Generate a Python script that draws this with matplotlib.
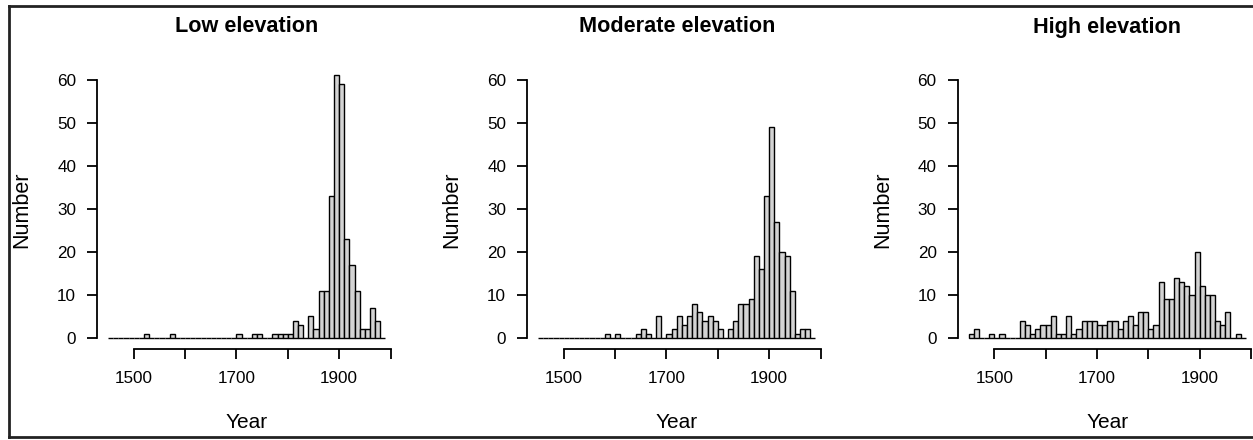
import matplotlib
matplotlib.use("Agg")
import matplotlib.pyplot as plt
from matplotlib.lines import Line2D

plt.rcParams['font.family'] = ['Liberation Sans', 'DejaVu Sans']

# decade bins, 1450 to 1980 (left edges)
decades = list(range(1450, 1990, 10))

low = [0, 0, 0, 0, 0, 0, 0, 1, 0, 0,
       0, 0, 1, 0, 0, 0, 0, 0, 0, 0,
       0, 0, 0, 0, 0, 1, 0, 0, 1, 1,
       0, 0, 1, 1, 1, 1, 4, 3, 0, 5,
       2, 11, 11, 33, 61, 59, 23, 17, 11, 2,
       2, 7, 4, 0]

moderate = [0, 0, 0, 0, 0, 0, 0, 0, 0, 0,
            0, 0, 0, 1, 0, 1, 0, 0, 0, 1,
            2, 1, 0, 5, 0, 1, 2, 5, 3, 5,
            8, 6, 4, 5, 4, 2, 0, 2, 4, 8,
            8, 9, 19, 16, 33, 49, 27, 20, 19, 11,
            1, 2, 2, 0]

high = [1, 2, 0, 0, 1, 0, 1, 0, 0, 0,
        4, 3, 1, 2, 3, 3, 5, 1, 1, 5,
        1, 2, 4, 4, 4, 3, 3, 4, 4, 2,
        4, 5, 3, 6, 6, 2, 3, 13, 9, 9,
        14, 13, 12, 10, 20, 12, 10, 10, 4, 3,
        6, 0, 1, 0]

titles = ["Low elevation", "Moderate elevation", "High elevation"]
series = [low, moderate, high]
xticks = [1500, 1600, 1700, 1800, 1900, 2000]
xticklabels = ["1500", "", "1700", "", "1900", ""]
yticks = [0, 10, 20, 30, 40, 50, 60]

W, H = 1253, 440
fig = plt.figure(figsize=(W / 100, H / 100), dpi=100)

x0, x1 = 1428.4, 2011.6
y0, y1 = -2.44, 63.44
px_per_year = 0.5135
ax_w = (x1 - x0) * px_per_year
ax_top, ax_bot = 65, 348.5
lefts = [97, 527, 957.5]

for left, title, counts in zip(lefts, titles, series):
    ax = fig.add_axes([left / W, 1 - ax_bot / H, ax_w / W, (ax_bot - ax_top) / H])
    ax.bar(decades, counts, width=10, align='edge', color='lightgray',
           edgecolor='black', linewidth=1.0)
    ax.set_xlim(x0, x1)
    ax.set_ylim(y0, y1)
    for s in ['top', 'right']:
        ax.spines[s].set_visible(False)
    ax.spines['left'].set_bounds(0, 60)
    ax.spines['bottom'].set_bounds(1500, 2000)
    ax.spines['left'].set_linewidth(1.3)
    ax.spines['bottom'].set_linewidth(1.3)
    ax.set_xticks(xticks)
    ax.set_xticklabels(xticklabels)
    ax.set_yticks(yticks)
    ax.tick_params(axis='both', length=7.5, width=1.3, labelsize=12.3, color='black')
    ax.tick_params(axis='x', pad=9)
    ax.tick_params(axis='y', pad=7.5)
    ax.patch.set_visible(False)

    cx = left + ax_w / 2
    fig.text(cx / W, 1 - 27 / H, title, ha='center', va='center',
             fontsize=15.6, fontweight='bold')
    fig.text(cx / W, 1 - 422 / H, "Year", ha='center', va='center', fontsize=15)
    fig.text((left - 75) / W, 1 - ((ax_top + ax_bot) / 2 + 3) / H, "Number",
             ha='center', va='center', rotation=90, fontsize=15.5)

# outer frame (left, top, bottom)
fx0, fy_top, fy_bot = 9 / W, 1 - 6 / H, 1 - 437 / H
frame_kw = dict(color='#222222', linewidth=2.0, transform=fig.transFigure)
fig.add_artist(Line2D([fx0, fx0], [fy_bot, fy_top], **frame_kw))
fig.add_artist(Line2D([fx0, 1], [fy_top, fy_top], **frame_kw))
fig.add_artist(Line2D([fx0, 1], [fy_bot, fy_bot], **frame_kw))

fig.savefig("out.png", dpi=100)
